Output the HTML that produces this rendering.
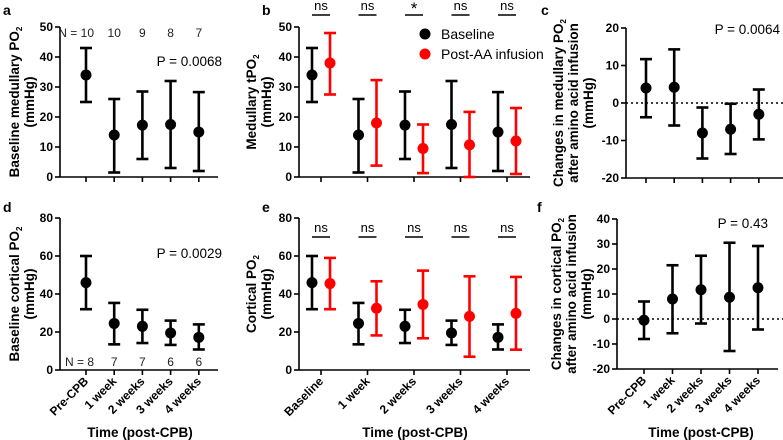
<!DOCTYPE html>
<html><head><meta charset="utf-8"><style>
body{margin:0;background:#fff;}
svg{display:block;font-family:"Liberation Sans",Arial,sans-serif;}
.tk{font-size:12px;font-weight:bold;}
.tt{font-size:13.5px;font-weight:bold;}
.pl{font-size:14px;font-weight:bold;}
.nt{font-size:12px;fill:#222;}
</style></head><body>
<svg id="fig" width="783" height="440" viewBox="0 0 783 440">
<text class="pl" x="3" y="15">a</text>
<text class="pl" x="262" y="15">b</text>
<text class="pl" x="541" y="15">c</text>
<text class="pl" x="3" y="212">d</text>
<text class="pl" x="262" y="212">e</text>
<text class="pl" x="537" y="212">f</text>
</svg>
<script>
// ---- data ----
const categoriesA=["Pre-CPB","1 week","2 weeks","3 weeks","4 weeks"];
const categoriesB=["Baseline","1 week","2 weeks","3 weeks","4 weeks"];
const medMean=[34,14,17.3,17.5,15];
const medLo=[25,1.5,6,3,2];
const medHi=[43,26,28.5,32,28.3];
const medPostMean=[38,18,9.5,10.7,12];
const medPostLo=[27.5,3.8,1.3,0,1];
const medPostHi=[48,32.3,17.5,21.7,23];
const medChgMean=[4,4.2,-8,-7,-3];
const medChgLo=[-3.8,-6,-14.8,-13.6,-9.7];
const medChgHi=[11.7,14.3,-1.2,-0.2,3.6];
const corMean=[46,24.5,23,19.5,17.2];
const corLo=[32,13.5,14.2,13.2,10.8];
const corHi=[60,35.3,31.7,26,24];
const corPostMean=[45.5,32.5,34.5,28.2,29.8];
const corPostLo=[32,18.2,16.7,7,10.7];
const corPostHi=[59,46.7,52.3,49.3,49];
const corChgMean=[-0.5,8,11.7,8.7,12.5];
const corChgLo=[-8,-5.7,-1.8,-12.8,-4.2];
const corChgHi=[7,21.5,25.3,30.5,29.2];
const medN=["N = 10","10","9","8","7"];
const corN=["N = 8","7","7","6","6"];
const medSig=["ns","ns","*","ns","ns"];
const corSig=["ns","ns","ns","ns","ns"];
const ticksMed=[0,10,20,30,40,50];
const ticksCor=[0,20,40,60,80];
const ticksMedChg=[-20,-10,0,10,20];
const ticksCorChg=[-20,-10,0,10,20,30,40];

const NS="http://www.w3.org/2000/svg";
const svg=document.getElementById('fig');
function mk(tag,attrs,parent,text){const e=document.createElementNS(NS,tag);for(const k in attrs)e.setAttribute(k,attrs[k]);if(text!==undefined)e.textContent=text;(parent||svg).appendChild(e);return e;}

function panel(o){
  const g=mk('g',{});
  
  
  const y=v=>o.y0+(v-o.ymin)/(o.ymax-o.ymin)*(o.y1-o.y0);
  const ya=mk('line',{x1:o.ax,x2:o.ax,y1:y(o.ymin),y2:y(o.ymax),stroke:'#000','stroke-width':1.6},g);
  
  
  o.ticks.forEach(t=>{
    mk('line',{x1:o.ax-5,x2:o.ax,y1:y(t),y2:y(t),stroke:'#000','stroke-width':1.6},g);
    const tl=mk('text',{class:'tk',x:o.ax-7,y:y(t)+4,'text-anchor':'end'},g,String(t));
    
    
  });
  const xa=mk('line',{x1:o.ax,x2:o.xend,y1:y(o.xAxisAt),y2:y(o.xAxisAt),stroke:'#000','stroke-width':1.6},g);
  
  
  if(o.zeroDotted){
    const zl=mk('line',{x1:o.ax,x2:783,y1:y(0),y2:y(0),stroke:'#000','stroke-width':1.5,'stroke-dasharray':'2,3'},g);
    
    
  }
  o.cats.forEach((c,i)=>{
    const cx=o.x0+i*o.step;
    mk('line',{x1:cx,x2:cx,y1:y(o.xAxisAt),y2:y(o.xAxisAt)+5,stroke:'#000','stroke-width':1.6},g);
    if(o.showX){
      const tx=cx+3, ty=y(o.xAxisAt)+12;
      const tl=mk('text',{class:'tk',x:tx,y:ty,'text-anchor':'end',transform:`rotate(-45 ${tx} ${ty})`},g,c);
      
      
    }
  });
  o.series.forEach(s=>{
    s.m.forEach((v,i)=>{
      const cx=o.x0+i*o.step+s.dx;
      const gg=mk('g',{},g);
      
      
      mk('line',{x1:cx,x2:cx,y1:y(s.lo[i]),y2:y(s.hi[i]),stroke:s.c,'stroke-width':2.6},gg);
      mk('line',{x1:cx-6,x2:cx+6,y1:y(s.lo[i]),y2:y(s.lo[i]),stroke:s.c,'stroke-width':2.6},gg);
      mk('line',{x1:cx-6,x2:cx+6,y1:y(s.hi[i]),y2:y(s.hi[i]),stroke:s.c,'stroke-width':2.6},gg);
      mk('circle',{cx:cx,cy:y(v),r:5.5,fill:s.c},gg);
    });
  });
  if(o.N){o.N.forEach((t,i)=>{const cx=o.x0+i*o.step;const e=mk('text',{class:'nt',x:i==0?cx+8:cx,y:o.Ny,'text-anchor':i==0?'end':'middle'},g,t);});}
  if(o.sig){o.sig.forEach((t,i)=>{const cx=o.x0+i*o.step;mk('line',{x1:cx-9,x2:cx+9,y1:o.sigY,y2:o.sigY,stroke:'#000','stroke-width':1.5},g);const e=mk('text',{x:cx,y:t=='*'?o.sigY-1:o.sigY-5,'text-anchor':'middle','font-size':t=='*'?'17px':'13px'},g,t);});}
  if(o.P){const e=mk('text',{x:o.P[1],y:o.P[2],'font-size':'13.5px','text-anchor':'end'},g,o.P[0]);}
  const tcx=o.tx, tcy=(o.y0+o.y1)/2;
  o.title.forEach((ln,k)=>{
    const e=mk('text',{class:'tt',x:tcx+k*15,y:tcy,'text-anchor':'middle',transform:`rotate(-90 ${tcx+k*15} ${tcy})`},g);
    
    
    e.innerHTML=ln;
  });
  if(o.showX){const e=mk('text',{class:'tt',x:o.xtc,y:437,'text-anchor':'middle','font-size':'13.5px'},g,'Time (post-CPB)');}
}
const PO='PO<tspan font-size="8" dy="3">2</tspan>';
panel({name:'panel-a',ax:60,xend:218,x0:86,step:28.2,off:0,y0:177,y1:27,ymin:0,ymax:50,xAxisAt:0,ticks:ticksMed,cats:categoriesA,showX:false,
 series:[{m:medMean,lo:medLo,hi:medHi,c:'#000',dx:0,nm:'baseline'}],N:medN,Ny:37,P:['P = 0.0068',222,66],tx:19,title:['Baseline medullary '+PO,'(mmHg)']});
panel({name:'panel-b',ax:299,xend:530,x0:321,step:46.5,off:0,y0:177,y1:27,ymin:0,ymax:50,xAxisAt:0,ticks:ticksMed,cats:categoriesB,showX:false,
 series:[{m:medMean,lo:medLo,hi:medHi,c:'#000',dx:-9,nm:'baseline'},{m:medPostMean,lo:medPostLo,hi:medPostHi,c:'#f00',dx:9,nm:'post-aa'}],sig:medSig,sigY:15,tx:256,title:['Medullary t'+PO,'(mmHg)']});
panel({name:'panel-c',ax:626,xend:783,x0:646,step:28.2,off:0,y0:178,y1:28,ymin:-20,ymax:20,xAxisAt:-20,ticks:ticksMedChg,cats:categoriesA,showX:false,zeroDotted:true,
 series:[{m:medChgMean,lo:medChgLo,hi:medChgHi,c:'#000',dx:0,nm:'change'}],P:['P = 0.0064',780,34],tx:563,title:['Changes in medullary '+PO,'after amino acid infusion','(mmHg)']});
panel({name:'panel-d',ax:60,xend:218,x0:86,step:28.2,off:0,y0:370,y1:218,ymin:0,ymax:80,xAxisAt:0,ticks:ticksCor,cats:categoriesA,showX:true,xtc:140,
 series:[{m:corMean,lo:corLo,hi:corHi,c:'#000',dx:0,nm:'baseline'}],N:corN,Ny:366,P:['P = 0.0029',222,258],tx:19,title:['Baseline cortical '+PO,'(mmHg)']});
panel({name:'panel-e',ax:299,xend:530,x0:321,step:46.5,off:0,y0:370,y1:218,ymin:0,ymax:80,xAxisAt:0,ticks:ticksCor,cats:categoriesB,showX:true,xtc:415,
 series:[{m:corMean,lo:corLo,hi:corHi,c:'#000',dx:-9,nm:'baseline'},{m:corPostMean,lo:corPostLo,hi:corPostHi,c:'#f00',dx:9,nm:'post-aa'}],sig:corSig,sigY:237,tx:256,title:['Cortical '+PO,'(mmHg)']});
panel({name:'panel-f',ax:617,xend:778,x0:644,step:28.5,off:0,y0:369,y1:219,ymin:-20,ymax:40,xAxisAt:-20,ticks:ticksCorChg,cats:categoriesA,showX:true,zeroDotted:true,xtc:701,
 series:[{m:corChgMean,lo:corChgLo,hi:corChgHi,c:'#000',dx:0,nm:'change'}],P:['P = 0.43',768,228],tx:561,title:['Changes in cortical '+PO,'after amino acid infusion','(mmHg)']});
const lg=mk('g',{});


const l1=mk('g',{},lg);


mk('circle',{cx:425,cy:34,r:5.5,fill:'#000'},l1);
mk('text',{x:441,y:39,'font-size':'14px'},l1,'Baseline');
const l2=mk('g',{},lg);


mk('circle',{cx:425,cy:54,r:5.5,fill:'#f00'},l2);
mk('text',{x:441,y:59,'font-size':'14px'},l2,'Post-AA infusion');
</script>
</body></html>
